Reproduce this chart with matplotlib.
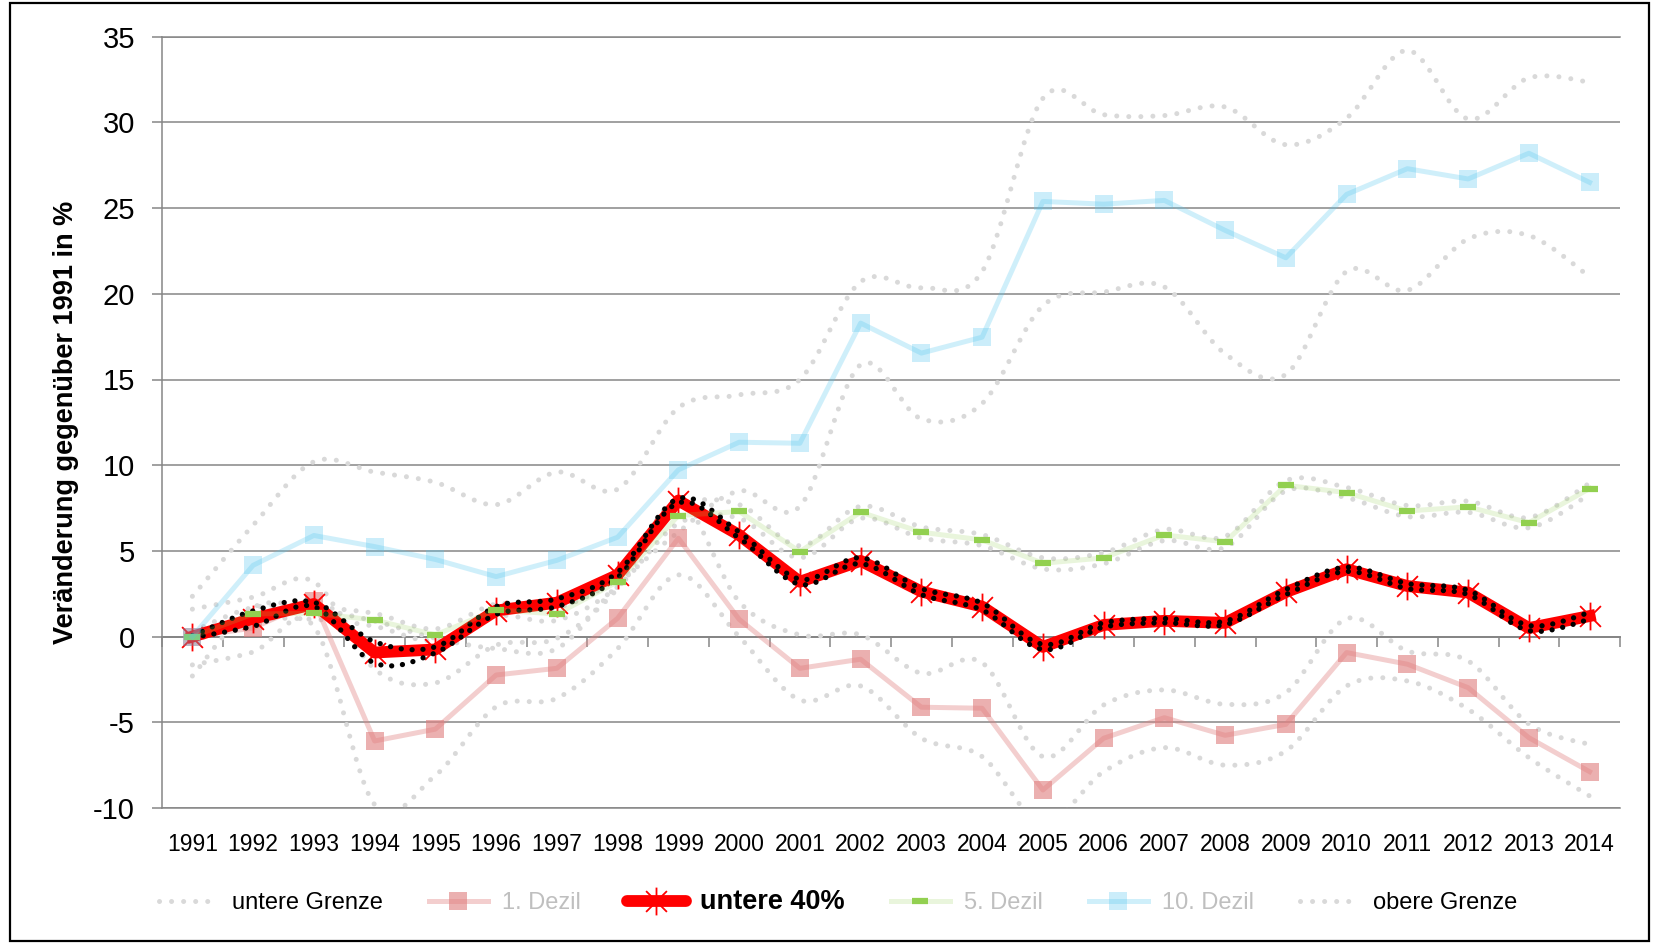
import numpy as np
import matplotlib
matplotlib.use("Agg")
import matplotlib.pyplot as plt
from matplotlib.path import Path
from matplotlib.patches import PathPatch, Rectangle
from matplotlib.lines import Line2D

plt.rcParams['font.family'] = ['Liberation Sans', 'DejaVu Sans']
plt.rcParams['axes.unicode_minus'] = False

years = list(range(1991, 2015))

# Veränderung gegenüber 1991 in %
dezil1 = [0.0, 0.5, 2.1, -6.09, -5.4, -2.24, -1.85, 1.07, 5.74, 1.01, -1.85, -1.32,
          -4.12, -4.18, -8.95, -5.93, -4.73, -5.76, -5.12, -0.93, -1.61, -2.98, -5.9, -7.88]
untere40 = [0.0, 1.05, 1.9, -0.93, -0.75, 1.52, 1.98, 3.6, 7.94, 5.93, 3.2, 4.42,
            2.63, 1.75, -0.6, 0.68, 0.92, 0.8, 2.6, 3.93, 2.95, 2.57, 0.5, 1.2]
dezil5 = [0.0, 1.32, 1.36, 0.97, 0.1, 1.56, 1.32, 3.2, 7.06, 7.3, 4.96, 7.26,
          6.09, 5.64, 4.28, 4.59, 5.93, 5.53, 8.83, 8.4, 7.33, 7.57, 6.65, 8.64]
dezil10 = [0.0, 4.16, 5.9, 5.25, 4.5, 3.5, 4.45, 5.8, 9.73, 11.34, 11.28, 18.29,
           16.54, 17.47, 25.39, 25.23, 25.45, 23.7, 22.1, 25.8, 27.3, 26.7, 28.2, 26.5]

# untere / obere Grenze je Reihe
d1_lo = [-1.65, -0.9, 0.6, -9.8, -8.1, -4.1, -3.6, -0.7, 3.6, 0.0, -3.7, -2.88,
         -5.93, -7.0, -10.9, -7.88, -6.48, -7.5, -6.67, -2.88, -2.59, -4.24, -7.06, -9.3]
d1_hi = [1.6, 2.3, 3.2, -1.9, -2.7, -0.5, -0.1, 2.8, 7.9, 2.04, 0.1, 0.1,
         -2.14, -1.52, -7.0, -3.99, -3.11, -3.95, -3.27, 1.05, -0.84, -1.42, -5.1, -6.3]
u40_lo = [-0.05, 0.6, 1.75, -1.55, -0.95, 1.3, 1.75, 3.45, 7.8, 5.75, 3.05, 4.25,
          2.45, 1.55, -0.75, 0.55, 0.8, 0.7, 2.45, 3.8, 2.8, 2.45, 0.35, 1.0]
u40_hi = [0.05, 1.5, 2.0, -0.3, -0.6, 1.75, 2.2, 3.75, 8.05, 6.1, 3.35, 4.6,
          2.8, 1.95, -0.45, 0.8, 1.05, 0.9, 2.75, 4.05, 3.1, 2.7, 0.65, 1.4]
d5_lo = [-0.3, 0.95, 1.0, 0.6, -0.25, 1.2, 0.95, 2.9, 6.6, 6.9, 4.6, 6.9,
         5.75, 5.3, 3.95, 4.25, 5.6, 5.2, 8.5, 8.1, 7.0, 7.25, 6.35, 8.3]
d5_hi = [0.3, 1.7, 1.7, 1.35, 0.45, 1.9, 1.7, 3.5, 7.5, 7.7, 5.3, 7.6,
         6.4, 5.95, 4.6, 4.9, 6.25, 5.85, 9.1, 8.7, 7.65, 7.9, 6.95, 8.95]
d10_lo = [-2.3, 1.7, 1.6, 0.9, -0.1, -0.7, -0.7, 3.0, 6.1, 8.5, 7.6, 15.86,
          12.7, 13.6, 19.3, 20.1, 20.4, 16.5, 15.3, 21.3, 20.2, 23.2, 23.4, 21.0]
d10_hi = [2.35, 6.5, 10.2, 9.6, 9.0, 7.7, 9.6, 8.6, 13.35, 14.1, 15.0, 20.7,
          20.35, 21.3, 31.4, 30.45, 30.4, 30.9, 28.7, 30.25, 34.2, 30.2, 32.6, 32.35]

GRID = '#868686'
GREY_DOT = '#d9d9d9'


def smooth_path(xs, ys):
    # Excel-artige geglättete Linie als Bezier-Pfad durch die Datenpunkte
    pts = np.column_stack([xs, ys]).astype(float)
    verts = [pts[0]]
    codes = [Path.MOVETO]
    n = len(pts)
    for i in range(n - 1):
        p0 = pts[i - 1] if i > 0 else pts[i]
        p1, p2 = pts[i], pts[i + 1]
        p3 = pts[i + 2] if i + 2 < n else pts[i + 1]
        verts += [p1 + (p2 - p0) / 6, p2 - (p3 - p1) / 6, p2]
        codes += [Path.CURVE4] * 3
    return Path(verts, codes)


def dotted(ax, ys, color, lw, gap, z):
    patch = PathPatch(smooth_path(np.arange(len(ys)), ys), facecolor='none',
                      edgecolor=color, lw=lw, linestyle=(0, (0.01, gap)), zorder=z)
    patch.set_capstyle('round')
    ax.add_patch(patch)


star = Path([(0, -1), (0, 1), (-0.75, -0.75), (0.75, 0.75), (-0.75, 0.75), (0.75, -0.75)],
            [Path.MOVETO, Path.LINETO] * 3)

fig = plt.figure(figsize=(16.54, 9.43), dpi=100)
ax = fig.add_axes([162 / 1654, 1 - 808 / 943, (1620 - 162) / 1654, (808 - 36.7) / 943])
x = np.arange(len(years))

for band in (d1_lo, d1_hi, d5_lo, d5_hi, d10_lo, d10_hi):
    dotted(ax, band, GREY_DOT, 3.6, 2.4, 1.5)

pink_line = (0.878, 0.5, 0.5, 0.38)
pink_mark = (0.878, 0.5, 0.5, 0.62)
blue_line = (0.333, 0.776, 0.941, 0.28)
blue_mark = (0.333, 0.776, 0.941, 0.3)
green_line = (0.573, 0.816, 0.314, 0.2)

ax.plot(x, dezil1, color=pink_line, lw=3.6, marker='s', ms=13, mfc=pink_mark, mew=0, zorder=2)
ax.plot(x, untere40, color='#ff0000', lw=8.5, solid_joinstyle='round', marker=star,
        ms=20, mec='#ff0000', mew=1.3, zorder=3)
dotted(ax, u40_lo, 'black', 3.8, 2.05, 3.5)
dotted(ax, u40_hi, 'black', 3.8, 2.05, 3.5)
ax.plot(x, dezil5, color=green_line, lw=3.6, marker='_', ms=11, mec='#92d050', mew=4.5, zorder=4)
ax.plot(x, dezil10, color=blue_line, lw=3.6, marker='s', ms=13, mfc=blue_mark, mew=0, zorder=4)

ax.set_xlim(-0.5, len(years) - 0.5)
ax.set_ylim(-10, 35)
ax.set_yticks(range(-10, 36, 5))
ax.yaxis.grid(True, color=GRID, lw=1.1)
ax.set_axisbelow(True)
ax.spines['right'].set_visible(False)
for s in ('left', 'top', 'bottom'):
    ax.spines[s].set_color(GRID)
    ax.spines[s].set_linewidth(1.1)
ax.tick_params(axis='y', direction='out', length=7.5, width=1.1, color=GRID,
               labelsize=21, pad=12)
ax.set_xticks(x)
ax.set_xticklabels(years)
ax.tick_params(axis='x', length=0, labelsize=16.5, pad=18)

# Achse bei 0 mit Teilstrichen zwischen den Jahren
sec = ax.secondary_xaxis(10 / 45)
sec.set_xticks(np.arange(-0.5, len(years), 1.0))
sec.tick_params(axis='x', direction='out', length=7, width=1.1, color=GRID,
                labelbottom=False, labeltop=False)
for s in sec.spines.values():
    s.set_color(GRID)
    s.set_linewidth(1.4)

fig.text(66 / 1654, 1 - 422 / 943, 'Veränderung gegenüber 1991 in %', rotation=90,
         ha='center', va='center', fontsize=19.5, fontweight='bold',
         family=['Liberation Sans Narrow', 'Liberation Sans', 'DejaVu Sans'])

handles = [
    Line2D([], [], color=GREY_DOT, lw=3.6, linestyle=(0, (0.01, 2.4)), dash_capstyle='round'),
    Line2D([], [], color=pink_line, lw=3.6, marker='s', ms=13, mfc=pink_mark, mew=0),
    Line2D([], [], color='#ff0000', lw=8.5, solid_capstyle='round', marker=star, ms=20,
           mec='#ff0000', mew=1.3),
    Line2D([], [], color=green_line, lw=3.6, marker='_', ms=11, mec='#92d050', mew=4.5),
    Line2D([], [], color=blue_line, lw=3.6, marker='s', ms=13, mfc=blue_mark, mew=0),
    Line2D([], [], color=GREY_DOT, lw=3.6, linestyle=(0, (0.01, 2.4)), dash_capstyle='round'),
]
labels = ['untere Grenze', '1. Dezil', 'untere 40%', '5. Dezil', '10. Dezil', 'obere Grenze']
leg = fig.legend(handles, labels, loc='center', bbox_to_anchor=(838 / 1654, 1 - 902 / 943),
                 ncol=6, frameon=False, fontsize=17, handlelength=2.5, handletextpad=0.6,
                 columnspacing=1.95, borderaxespad=0)
for t, lab in zip(leg.get_texts(), labels):
    if 'Dezil' in lab:
        t.set_color('#bfbfbf')
    if lab == 'untere 40%':
        t.set_fontsize(19.5)
        t.set_fontweight('bold')

fig.patches.append(Rectangle((10 / 1654, 2 / 943), 1639 / 1654, 938 / 943,
                             transform=fig.transFigure, fill=False, ec='black', lw=1.6))

fig.savefig('out.png', dpi=100)
